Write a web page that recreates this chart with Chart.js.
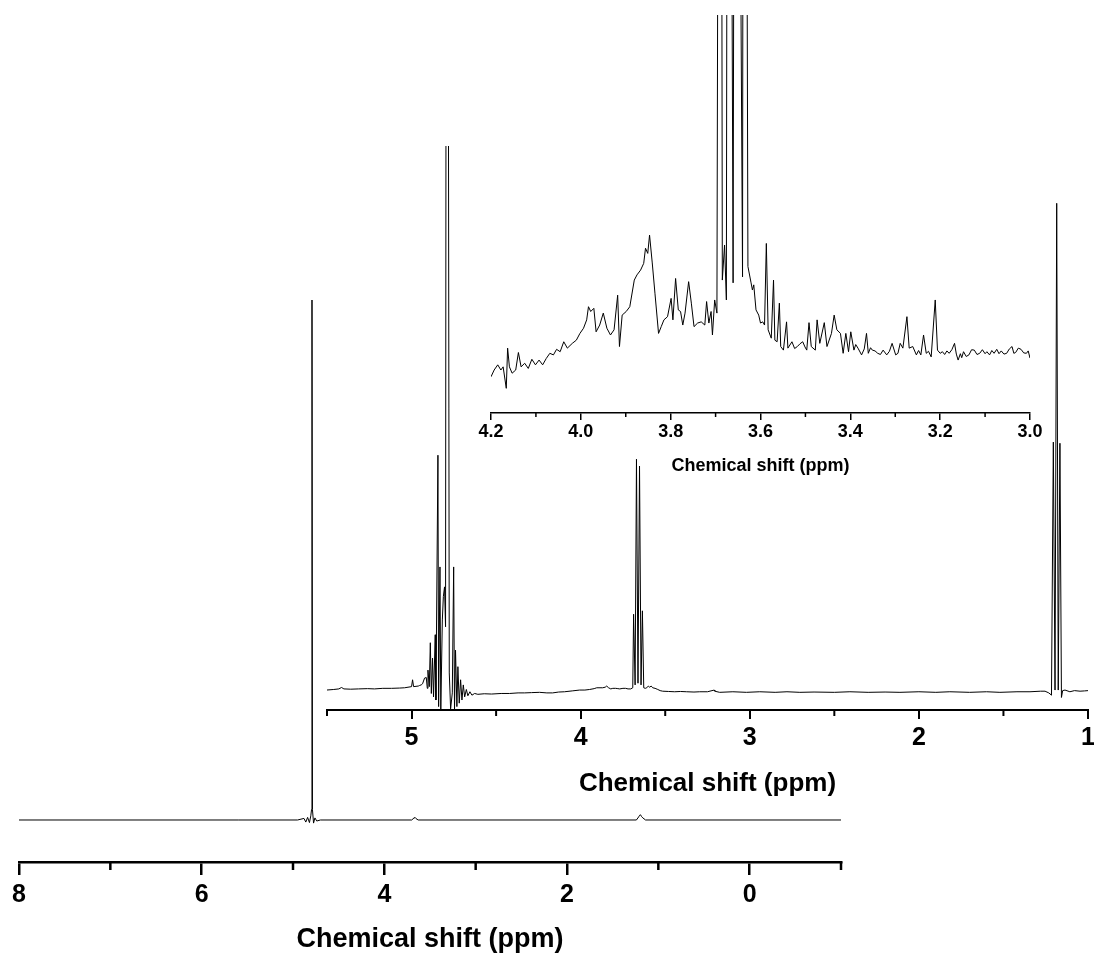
<!DOCTYPE html>
<html>
<head>
<meta charset="utf-8">
<script src="https://cdn.jsdelivr.net/npm/chart.js@4.4.0/dist/chart.umd.min.js"></script>
<style>
  html, body { margin: 0; padding: 0; background: #fff; overflow: hidden; }
  #wrap { position: relative; width: 1094px; height: 963px; overflow: hidden; }
  #wrap canvas { position: absolute; left: 0; top: 0; }
</style>
</head>
<body>
<div id="wrap">
  <canvas id="fullChart" width="1094" height="963"></canvas>
  <canvas id="zoomChart" width="1130" height="963"></canvas>
  <canvas id="insetChart" width="1094" height="963"></canvas>
</div>
<script>
// full spectrum, 8 to -1 ppm (bottom)
const fullShift = [8.0, 5.6, 4.95, 4.88, 4.86, 4.84, 4.82, 4.805, 4.797, 4.792, 4.787, 4.775, 4.76, 4.74, 4.70,
  3.70, 3.675, 3.665, 3.655, 3.63, 1.24, 1.215, 1.205, 1.195, 1.185, 1.17, 1.14, -1.0];
const fullIntensity = [0, 0, 0, 0.3, -0.4, 0.5, -0.5, 0.8, 2, 100, 2, -0.6, 0.4, -0.2, 0,
  0, 0.4, 0.5, 0.3, 0, 0, 0.6, 0.9, 1.0, 0.7, 0.4, 0, 0];
const fullMajorTicks = [8, 6, 4, 2, 0];
const fullMinorTicks = [7, 5, 3, 1, -1];

// expanded spectrum, 5.5 to 1 ppm (middle)
const zoomShift = [5.503, 5.46, 5.43, 5.414, 5.40, 5.36, 5.314, 5.26, 5.219, 5.17, 5.118, 5.07, 5.041, 5.0, 4.994, 4.988,
  4.96, 4.953, 4.943, 4.935, 4.923, 4.913, 4.907, 4.903, 4.895, 4.889, 4.883, 4.876, 4.870, 4.860, 4.856, 4.844,
  4.840, 4.832, 4.827, 4.818, 4.812, 4.805, 4.799, 4.7955, 4.7835, 4.777, 4.769, 4.759, 4.751, 4.746, 4.740, 4.732,
  4.726, 4.718, 4.710, 4.702, 4.694, 4.686, 4.676, 4.667, 4.655, 4.643, 4.627, 4.608, 4.57, 4.527, 4.47, 4.420,
  4.37, 4.331, 4.29, 4.243, 4.20, 4.166, 4.13, 4.095, 4.05, 4.006, 3.975, 3.947, 3.92, 3.905, 3.870, 3.855, 3.846,
  3.835, 3.822, 3.81, 3.793, 3.78, 3.769, 3.75, 3.734, 3.72, 3.704, 3.692, 3.687, 3.678, 3.670, 3.661, 3.652, 3.643,
  3.635, 3.627, 3.618, 3.609, 3.60, 3.592, 3.583, 3.574, 3.56, 3.544, 3.53, 3.515, 3.48, 3.444, 3.41, 3.373, 3.33,
  3.296, 3.25, 3.21, 3.207, 3.178, 3.10, 3.02, 2.941, 2.85, 2.78, 2.704, 2.62, 2.50, 2.408, 2.30, 2.20, 2.112, 2.00,
  1.90, 1.817, 1.70, 1.60, 1.521, 1.42, 1.343, 1.28, 1.254, 1.232, 1.216, 1.205, 1.195, 1.185, 1.176, 1.166, 1.157,
  1.150, 1.136, 1.107, 1.08, 1.047, 1.02, 1.0];
const zoomIntensity = [3.5, 3.6, 3.7, 3.95, 3.7, 3.65, 3.7, 3.75, 3.7, 3.8, 3.8, 3.85, 3.9, 4.1, 5.3, 4.1,
  4.2, 4.3, 4.4, 4.6, 5.6, 5.7, 3.8, 7.0, 4.1, 11.8, 2.9, 9.1, 2.3, 13.2, 1.75, 44.7,
  0.6, 25.1, 0.1, 15.8, 19.9, 21.6, 14.6, 140, 140, 6.5, 0.2, 3.0, 25.1, 0.1, 10.5, 0.6,
  7.6, 1.2, 5.3, 1.75, 4.4, 2.3, 3.6, 2.5, 3.2, 2.6, 2.9, 2.75, 2.85, 2.8, 2.9, 2.9,
  3.0, 3.0, 3.05, 3.1, 3.0, 3.0, 3.15, 3.2, 3.35, 3.5, 3.5, 3.6, 3.75, 3.9, 3.9, 4.0, 4.2,
  3.9, 3.7, 3.8, 3.8, 3.75, 3.7, 3.8, 3.8, 3.7, 3.7, 3.9, 16.8, 4.4, 44.0, 4.7, 42.8, 4.4,
  17.4, 3.9, 3.8, 3.9, 4.2, 4.0, 4.2, 3.9, 3.8, 3.6, 3.4, 3.3, 3.25, 3.2, 3.25, 3.2, 3.15,
  3.2, 3.2, 3.5, 3.3, 3.1, 3.2, 3.1, 3.2, 3.1, 3.2, 3.1, 3.15, 3.1, 3.2, 3.1, 3.15, 3.1, 3.2,
  3.1, 3.2, 3.1, 3.2, 3.1, 3.2, 3.2, 3.3, 3.3, 3.0, 2.6, 47.0, 3.5, 88.9, 3.5, 46.8, 2.2,
  3.4, 3.5, 3.2, 3.4, 3.3, 3.35, 3.4];
const zoomMajorTicks = [5, 4, 3, 2, 1];
const zoomMinorTicks = [5.5, 4.5, 3.5, 2.5, 1.5];

// inset, 4.2 to 3.0 ppm
const insetShift = [4.200, 4.193, 4.185, 4.178, 4.173, 4.166, 4.163, 4.159, 4.153, 4.145, 4.139, 4.133, 4.125, 4.117,
  4.109, 4.101, 4.093, 4.085, 4.077, 4.069, 4.061, 4.054, 4.046, 4.038, 4.030, 4.019, 4.010, 4.002, 3.994, 3.987,
  3.983, 3.978, 3.971, 3.966, 3.958, 3.950, 3.942, 3.934, 3.926, 3.918, 3.914, 3.908, 3.899, 3.891, 3.881, 3.875,
  3.867, 3.860, 3.856, 3.851, 3.847, 3.841, 3.835, 3.827, 3.821, 3.815, 3.807, 3.799, 3.795, 3.789, 3.783, 3.778,
  3.773, 3.768, 3.760, 3.754, 3.748, 3.740, 3.732, 3.724, 3.720, 3.715, 3.710, 3.707, 3.702, 3.697, 3.6915, 3.6885,
  3.685, 3.680, 3.676, 3.6725, 3.6695, 3.661, 3.6565, 3.6535, 3.640, 3.6375, 3.6345, 3.628, 3.621, 3.618, 3.615,
  3.610, 3.604, 3.600, 3.595, 3.591, 3.587, 3.583, 3.576, 3.571, 3.568, 3.563, 3.558, 3.555, 3.549, 3.542, 3.539,
  3.530, 3.524, 3.518, 3.512, 3.506, 3.501, 3.497, 3.492, 3.487, 3.478, 3.474, 3.468, 3.458, 3.452, 3.442, 3.436,
  3.430, 3.422, 3.416, 3.410, 3.404, 3.399, 3.392, 3.388, 3.383, 3.375, 3.369, 3.364, 3.360, 3.355, 3.351, 3.345,
  3.339, 3.333, 3.327, 3.319, 3.313, 3.307, 3.299, 3.294, 3.289, 3.283, 3.274, 3.269, 3.261, 3.253, 3.248, 3.243,
  3.237, 3.231, 3.226, 3.220, 3.211, 3.206, 3.200, 3.195, 3.190, 3.185, 3.180, 3.174, 3.168, 3.164, 3.160, 3.155,
  3.152, 3.148, 3.142, 3.136, 3.130, 3.124, 3.118, 3.112, 3.106, 3.100, 3.096, 3.090, 3.085, 3.080, 3.074, 3.069,
  3.064, 3.058, 3.052, 3.046, 3.040, 3.036, 3.032, 3.026, 3.020, 3.014, 3.008, 3.004, 3.000];
const insetIntensity = [9.1, 10.8, 12.1, 10.8, 11.6, 6.2, 16.3, 11.6, 10.0, 10.8, 15.2, 11.6, 12.5, 11.2,
  13.5, 12.1, 13.3, 12.1, 13.7, 15.0, 14.6, 16.0, 15.4, 17.9, 16.3, 17.5, 18.3, 20.0, 21.3, 23.4,
  26.7, 25.5, 26.3, 20.4, 22.1, 25.1, 21.3, 19.6, 20.9, 29.6, 16.7, 24.6, 25.5, 26.7, 33.4, 34.7,
  35.9, 37.6, 41.4, 40.1, 44.7, 37.7, 30.1, 20.0, 21.7, 23.4, 24.2, 28.8, 23.4, 33.8, 25.9, 25.5,
  22.1, 25.1, 33.0, 27.6, 21.7, 22.6, 22.9, 22.1, 28.0, 22.6, 25.5, 19.6, 28.4, 25.1, 300, 300,
  33.4, 42.2, 28.4, 300, 300, 32.7, 300, 300, 34.2, 300, 300, 36.8, 32.7, 30.9, 32.2,
  25.9, 24.6, 22.6, 22.9, 22.1, 42.6, 20.9, 18.8, 33.4, 18.3, 17.9, 27.6, 16.7, 15.8, 22.9, 16.3,
  17.9, 16.2, 16.7, 17.4, 17.9, 16.6, 15.8, 22.7, 16.7, 15.8, 23.4, 17.5, 22.7, 16.7, 20.0, 24.6,
  20.9, 20.0, 15.0, 20.0, 15.4, 20.4, 15.8, 17.2, 16.3, 14.6, 16.1, 20.0, 15.0, 16.4, 15.8, 15.6,
  15.0, 14.7, 15.8, 14.6, 15.5, 17.5, 14.6, 15.0, 17.5, 16.3, 24.2, 16.3, 16.7, 14.6, 15.7, 14.6,
  19.6, 15.0, 15.5, 14.1, 28.4, 15.8, 15.0, 15.4, 14.7, 15.6, 15.0, 15.9, 17.5, 14.8, 13.3, 14.9,
  13.9, 15.4, 14.2, 14.6, 15.9, 15.8, 14.7, 15.0, 15.9, 14.9, 15.4, 14.6, 15.7, 15.0, 16.0, 14.9,
  15.6, 14.8, 15.0, 16.1, 16.7, 15.0, 15.2, 16.3, 16.0, 15.1, 15.0, 15.6, 13.8];
const insetMajorTicks = [4.2, 4.0, 3.8, 3.6, 3.4, 3.2, 3.0];
const insetMinorTicks = [4.1, 3.9, 3.7, 3.5, 3.3, 3.1];

const FONT = 'Liberation Sans, Arial, sans-serif';

// short ticks between the labelled ones
function minorTicks(values, len, width) {
    return {
        id: 'minorTicks',
        afterDraw(chart) {
            const s = chart.scales.x;
            const ctx = chart.ctx;
            ctx.save();
            ctx.strokeStyle = '#000';
            ctx.lineWidth = width;
            values.forEach(v => {
                const px = s.getPixelForValue(v);
                ctx.beginPath();
                ctx.moveTo(px, s.top);
                ctx.lineTo(px, s.top + len);
                ctx.stroke();
            });
            ctx.restore();
        }
    };
}

function drawSpectrum(id, shifts, values, o) {
    new Chart(document.getElementById(id), {
        type: 'line',
        data: {
            datasets: [{
                data: shifts.map((x, i) => ({ x: x, y: values[i] })),
                borderColor: '#000',
                borderWidth: 1,
                pointRadius: 0,
                tension: 0,
                fill: false
            }]
        },
        options: {
            responsive: false,
            animation: false,
            events: [],
            layout: { padding: o.padding },
            plugins: { legend: { display: false }, tooltip: { enabled: false } },
            scales: {
                x: {
                    type: 'linear',
                    reverse: true,
                    min: o.xMin,
                    max: o.xMax,
                    afterBuildTicks: s => { s.ticks = o.major.map(v => ({ value: v })); },
                    border: { display: true, color: '#000', width: o.axisWidth },
                    grid: { display: true, drawOnChartArea: false, drawTicks: true, tickLength: o.tickLen, color: '#000', lineWidth: o.axisWidth },
                    ticks: {
                        color: '#000',
                        padding: o.tickPad,
                        maxRotation: 0,
                        autoSkip: false,
                        font: { family: FONT, weight: 'bold', size: o.tickSize },
                        callback: v => v.toFixed(o.decimals)
                    },
                    title: {
                        display: true,
                        text: 'Chemical shift (ppm)',
                        color: '#000',
                        padding: { top: o.titlePad, bottom: 0 },
                        font: { family: FONT, weight: 'bold', size: o.titleSize }
                    }
                },
                y: { display: false, min: o.yMin, max: o.yMax }
            }
        },
        plugins: [minorTicks(o.minor, o.minorLen, o.axisWidth)]
    });
}

drawSpectrum('fullChart', fullShift, fullIntensity, {
    padding: { left: 19, right: 253, top: 300, bottom: 6.8 },
    xMin: -1, xMax: 8, yMin: -8.08, yMax: 100,
    major: fullMajorTicks, minor: fullMinorTicks, decimals: 0,
    axisWidth: 2.5, tickLen: 13, minorLen: 8, tickPad: 5,
    tickSize: 25, titleSize: 27, titlePad: 8.8
});

// this canvas is wider than the page so the "1" label may sit on the edge
drawSpectrum('zoomChart', zoomShift, zoomIntensity, {
    padding: { left: 327, right: 42, top: 146, bottom: 163.9 },
    xMin: 1, xMax: 5.5, yMin: 0, yMax: 98.95,
    major: zoomMajorTicks, minor: zoomMinorTicks, decimals: 0,
    axisWidth: 2, tickLen: 9, minorLen: 6, tickPad: 4,
    tickSize: 25, titleSize: 26, titlePad: 10.9
});

drawSpectrum('insetChart', insetShift, insetIntensity, {
    padding: { left: 491, right: 64, top: 15, bottom: 486.2 },
    xMin: 3.0, xMax: 4.2, yMin: 0, yMax: 100,
    major: insetMajorTicks, minor: insetMinorTicks, decimals: 1,
    axisWidth: 1.5, tickLen: 7, minorLen: 4, tickPad: 1,
    tickSize: 18, titleSize: 18, titlePad: 11.6
});
</script>
</body>
</html>
